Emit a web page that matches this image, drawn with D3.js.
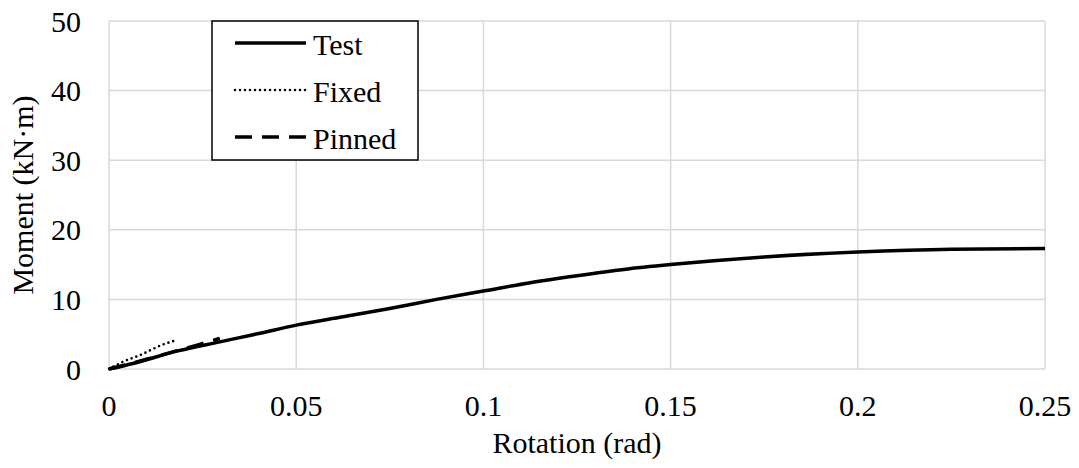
<!DOCTYPE html>
<html>
<head>
<meta charset="utf-8">
<script src="https://cdn.jsdelivr.net/npm/d3@7"></script>
<style>
  html, body { margin: 0; padding: 0; background: #fff; }
</style>
</head>
<body>
<svg id="chart" width="1079" height="468" font-family="'Liberation Serif', 'Times New Roman', Times, 'DejaVu Serif', serif"></svg>
<script>
// ---- data ----
const testRot = [0, 0.0064, 0.0184, 0.0296, 0.04, 0.05, 0.0625, 0.075, 0.0875, 0.1, 0.1125, 0.125, 0.1375, 0.15, 0.175, 0.2, 0.225, 0.25];
const testMom = [0, 0.8, 2.6, 3.9, 5.1, 6.3, 7.5, 8.7, 10.0, 11.2, 12.4, 13.4, 14.3, 15.0, 16.1, 16.8, 17.2, 17.3];
const fixedRot = [0, 0.0038, 0.0083, 0.0141, 0.0184];
const fixedMom = [0, 1.05, 2.0, 3.45, 4.2];
const pinnedRot = [0, 0.006, 0.012, 0.018, 0.024, 0.0296];
const pinnedMom = [0, 0.8, 1.7, 2.6, 3.5, 4.4];
const xTicks = [0, 0.05, 0.1, 0.15, 0.2, 0.25];
const xTickLabels = ["0", "0.05", "0.1", "0.15", "0.2", "0.25"];
const yTicks = [0, 10, 20, 30, 40, 50];
const seriesNames = ["Test", "Fixed", "Pinned"];

// ---- layout ----
const svg = d3.select("#chart");
const pL = 109, pR = 1045, pT = 21, pB = 369;
const fs = 30;
const x = d3.scaleLinear().domain([0, 0.25]).range([pL, pR]);
const y = d3.scaleLinear().domain([0, 50]).range([pB, pT]);
const grid = "#d9d9d9";

// grid lines
svg.append("g").selectAll("line").data(yTicks).join("line")
  .attr("x1", pL).attr("x2", pR)
  .attr("y1", d => y(d)).attr("y2", d => y(d))
  .attr("stroke", grid).attr("stroke-width", 1.5);
svg.append("g").selectAll("line").data(xTicks).join("line")
  .attr("x1", d => x(d)).attr("x2", d => x(d))
  .attr("y1", pT).attr("y2", pB)
  .attr("stroke", grid).attr("stroke-width", 1.5);

// tick labels
svg.append("g").selectAll("text").data(yTicks).join("text")
  .attr("x", 81).attr("y", d => y(d))
  .attr("text-anchor", "end").attr("dominant-baseline", "central")
  .attr("font-size", fs).text(d => d);
svg.append("g").selectAll("text").data(xTicks).join("text")
  .attr("x", d => x(d)).attr("y", 405)
  .attr("text-anchor", "middle").attr("dominant-baseline", "central")
  .attr("font-size", fs).text((d, i) => xTickLabels[i]);

// axis titles
svg.append("text")
  .attr("x", (pL + pR) / 2).attr("y", 442)
  .attr("text-anchor", "middle").attr("dominant-baseline", "central")
  .attr("font-size", fs).text("Rotation (rad)");
svg.append("text")
  .attr("transform", `translate(22,${(pT + pB) / 2}) rotate(-90)`)
  .attr("text-anchor", "middle").attr("dominant-baseline", "central")
  .attr("font-size", fs).text("Moment (kN·m)");

// series
const line = d3.line().x(d => x(d[0])).y(d => y(d[1])).curve(d3.curveMonotoneX);
const zip = (a, b) => a.map((v, i) => [v, b[i]]);
const styles = {
  Test:   { width: 3.5, dash: null, cap: "butt" },
  Fixed:  { width: 2.6, dash: "0,5", cap: "round" },
  Pinned: { width: 3.5, dash: "17,10", cap: "butt" }
};
const seriesData = {
  Test: zip(testRot, testMom),
  Fixed: zip(fixedRot, fixedMom),
  Pinned: zip(pinnedRot, pinnedMom)
};
["Pinned", "Fixed", "Test"].forEach(name => {
  const s = styles[name];
  svg.append("path").datum(seriesData[name])
    .attr("d", line).attr("fill", "none").attr("stroke", "#000")
    .attr("stroke-width", s.width).attr("stroke-linecap", s.cap)
    .attr("stroke-dasharray", s.dash);
});

// legend
const lg = svg.append("g");
lg.append("rect").attr("x", 212).attr("y", 21).attr("width", 206).attr("height", 139)
  .attr("fill", "#fff").attr("stroke", "#000").attr("stroke-width", 1.5);
seriesNames.forEach((name, i) => {
  const ly = 43 + i * 47;
  const s = styles[name];
  lg.append("line").attr("x1", 235).attr("x2", 306).attr("y1", ly).attr("y2", ly)
    .attr("stroke", "#000").attr("stroke-width", s.width)
    .attr("stroke-linecap", s.cap).attr("stroke-dasharray", s.dash);
  lg.append("text").attr("x", 313).attr("y", ly + 1)
    .attr("dominant-baseline", "central").attr("font-size", fs).text(name);
});
</script>
</body>
</html>
